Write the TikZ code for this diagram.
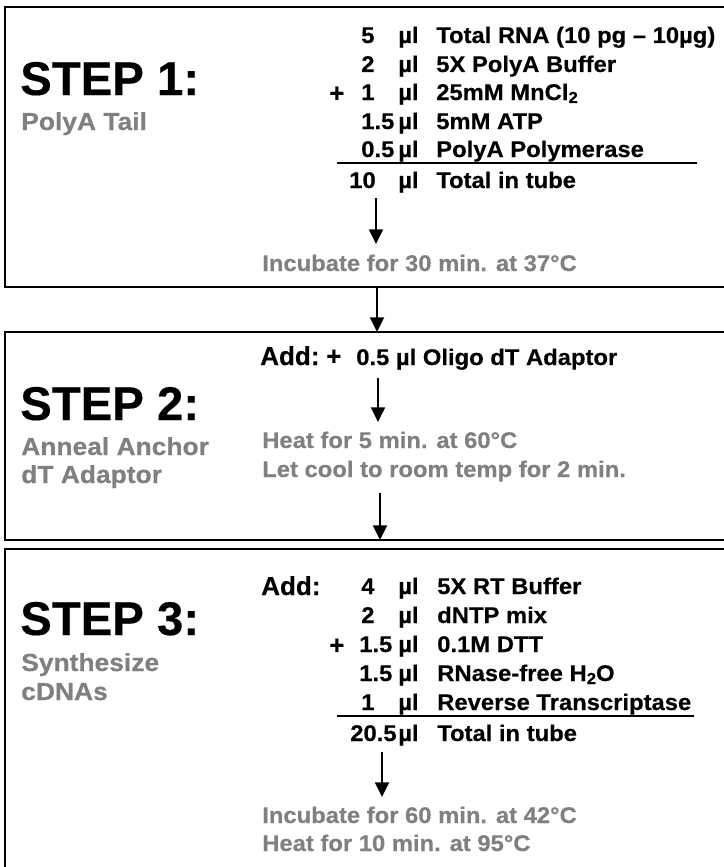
\documentclass[tikz,border=0pt]{standalone}
\usepackage{fontspec}
\setmainfont{Liberation Sans}
\newfontfamily\stepfont[FakeBold=0.3]{Liberation Sans Bold}
\newfontfamily\widefont[FakeStretch=1.05,FakeBold=0.4]{Liberation Sans Bold}
\newfontfamily\subfont[FakeStretch=1.07,FakeBold=0.4]{Liberation Sans Bold}
\usetikzlibrary{arrows.meta}
\definecolor{txtgray}{RGB}{128,128,128}
\begin{document}
\begin{tikzpicture}[x=0.75pt,y=-0.75pt,
  steptitle/.style={anchor=base west,inner sep=0pt,font=\stepfont\fontsize{35.5}{37}\selectfont},
  subtitle/.style={anchor=base west,inner sep=0pt,text=txtgray,font=\subfont\fontsize{18.5}{20}\selectfont},
  rowtxt/.style={anchor=base west,inner sep=0pt,font=\widefont\fontsize{17}{19}\selectfont},
  graytxt/.style={rowtxt,text=txtgray},
  bigtxt/.style={anchor=base west,inner sep=0pt,font=\stepfont\fontsize{19.5}{21}\selectfont},
  stepbox/.style={draw,line width=1.5pt},
  arr/.style={-{Triangle[width=10.5pt,length=11pt]},line width=1.4pt},
  sumline/.style={line width=1.8pt}]
\useasboundingbox (0,0) rectangle (724,867);
\clip (0,0) rectangle (724,867);
\fill[white] (0,0) rectangle (724,867);

% ---------- boxes ----------
\coordinate (b1nw) at (5,7);   \coordinate (b1se) at (740,287);
\coordinate (b2nw) at (5,332); \coordinate (b2se) at (740,540);
\coordinate (b3nw) at (5,549); \coordinate (b3se) at (740,900);
\draw[stepbox] (b1nw) rectangle (b1se);
\draw[stepbox] (b2nw) rectangle (b2se);
\draw[stepbox] (b3nw) rectangle (b3se);

% ---------- STEP 1 ----------
\node[steptitle] (s1) at (20,95) {STEP 1:};
\node[subtitle] (s1sub) at (21,130) {PolyA Tail};

\node[rowtxt] (r1n) at (361,43) {5};
\node[rowtxt] (r1u) at (398,43) {µl};
\node[rowtxt] (r1d) at (436,43) {Total RNA (10 pg – 10µg)};
\node[rowtxt] (r2n) at (361,72) {2};
\node[rowtxt] (r2u) at (398,72) {µl};
\node[rowtxt] (r2d) at (436,72) {5X PolyA Buffer};
\node[bigtxt] (r3p) at (329,102) {+};
\node[rowtxt] (r3n) at (361,100) {1};
\node[rowtxt] (r3u) at (398,100) {µl};
\node[rowtxt] (r3d) at (436,100) {25mM MnCl\raisebox{-0.25ex}{\fontsize{12}{12}\selectfont 2}};
\node[rowtxt] (r4n) at (361,129) {1.5};
\node[rowtxt] (r4u) at (398,129) {µl};
\node[rowtxt] (r4d) at (436,129) {5mM ATP};
\node[rowtxt] (r5n) at (361,157) {0.5};
\node[rowtxt] (r5u) at (398,157) {µl};
\node[rowtxt] (r5d) at (436,157) {PolyA Polymerase};
\coordinate (l1a) at (337,163); \coordinate (l1b) at (697,163);
\draw[sumline] (l1a) -- (l1b);
\node[rowtxt] (r6n) at (349,188) {10};
\node[rowtxt] (r6u) at (398,188) {µl};
\node[rowtxt] (r6d) at (436,188) {Total in tube};
\coordinate (a1s) at (376,198); \coordinate (a1e) at (376,244);
\draw[arr] (a1s) -- (a1e);
\node[graytxt] (inc1) at (262,271) {Incubate for 30 min. at 37°C};

% arrow box1 -> box2
\coordinate (a2s) at (377,287); \coordinate (a2e) at (377,332);
\draw[arr] (a2s) -- (a2e);

% ---------- STEP 2 ----------
\node[steptitle] (s2) at (20,420) {STEP 2:};
\node[subtitle] (s2sub1) at (21,455) {Anneal Anchor};
\node[subtitle] (s2sub2) at (21,483) {dT Adaptor};
\node[bigtxt] (add2) at (260,365) {Add:};
\node[bigtxt] (add2p) at (326,365) {+};
\node[rowtxt] (add2t) at (356,365) {0.5 µl Oligo dT Adaptor};
\coordinate (a3s) at (378,378); \coordinate (a3e) at (378,422);
\draw[arr] (a3s) -- (a3e);
\node[graytxt] (heat2) at (262,448) {Heat for 5 min. at 60°C};
\node[graytxt] (cool2) at (262,477) {Let cool to room temp for 2 min.};

% arrow box2 -> box3
\coordinate (a4s) at (380,493); \coordinate (a4e) at (380,540);
\draw[arr] (a4s) -- (a4e);

% ---------- STEP 3 ----------
\node[steptitle] (s3) at (20,635) {STEP 3:};
\node[subtitle] (s3sub1) at (21,671) {Synthesize};
\node[subtitle] (s3sub2) at (21,700) {cDNAs};
\node[bigtxt] (add3) at (261,595) {Add:};
\node[rowtxt] (q1n) at (361,594) {4};
\node[rowtxt] (q1u) at (398,594) {µl};
\node[rowtxt] (q1d) at (437,594) {5X RT Buffer};
\node[rowtxt] (q2n) at (361,623) {2};
\node[rowtxt] (q2u) at (398,623) {µl};
\node[rowtxt] (q2d) at (437,623) {dNTP mix};
\node[bigtxt] (q3p) at (329,654) {+};
\node[rowtxt] (q3n) at (359,652) {1.5};
\node[rowtxt] (q3u) at (398,652) {µl};
\node[rowtxt] (q3d) at (437,652) {0.1M DTT};
\node[rowtxt] (q4n) at (359,681) {1.5};
\node[rowtxt] (q4u) at (398,681) {µl};
\node[rowtxt] (q4d) at (437,681) {RNase-free H\raisebox{-0.25ex}{\fontsize{12}{12}\selectfont 2}O};
\node[rowtxt] (q5n) at (361,710) {1};
\node[rowtxt] (q5u) at (398,710) {µl};
\node[rowtxt] (q5d) at (437,710) {Reverse Transcriptase};
\coordinate (l2a) at (337,716); \coordinate (l2b) at (694,716);
\draw[sumline] (l2a) -- (l2b);
\node[rowtxt] (q6n) at (350,741) {20.5};
\node[rowtxt] (q6u) at (398,741) {µl};
\node[rowtxt] (q6d) at (437,741) {Total in tube};
\coordinate (a5s) at (382,752); \coordinate (a5e) at (382,797);
\draw[arr] (a5s) -- (a5e);
\node[graytxt] (inc3) at (262,823) {Incubate for 60 min. at 42°C};
\node[graytxt] (heat3) at (262,851) {Heat for 10 min. at 95°C};
\end{tikzpicture}
\end{document}
